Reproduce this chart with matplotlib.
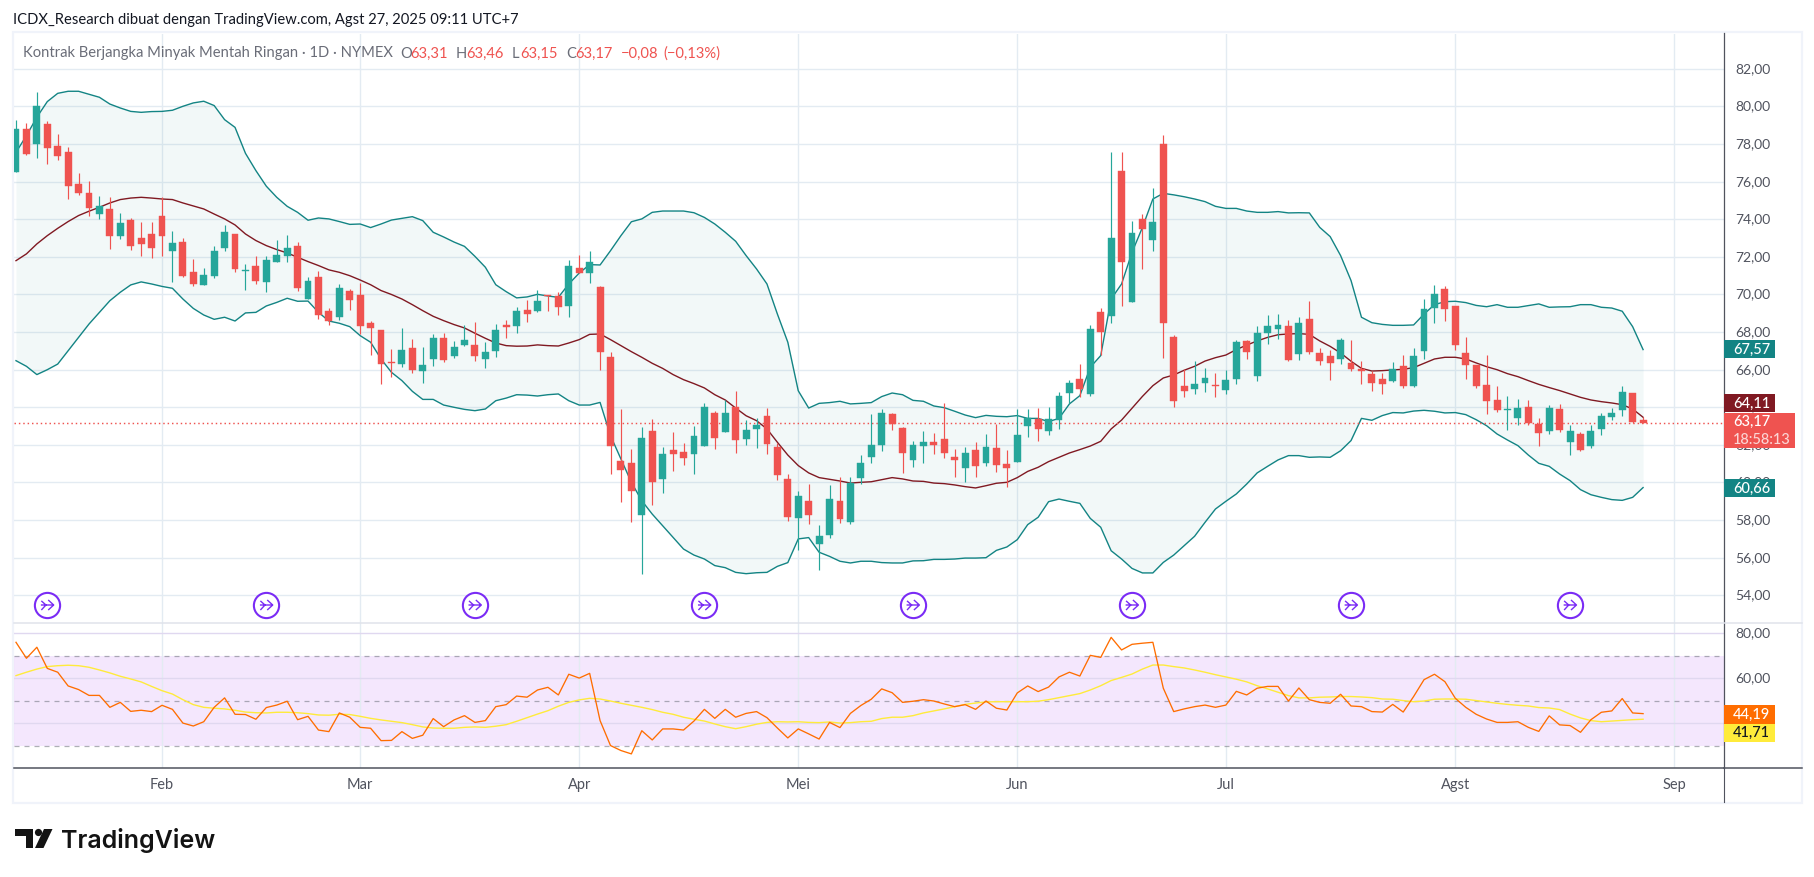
import matplotlib
matplotlib.use("Agg")
import matplotlib.pyplot as plt
from matplotlib.patches import Rectangle, Polygon, Circle
from matplotlib.lines import Line2D
from matplotlib.path import Path
from matplotlib.markers import MarkerStyle
from matplotlib.transforms import ScaledTranslation

# ---------- data ----------
opens = [76.54,78.81,78.01,79.05,77.90,77.58,75.88,75.40,74.28,74.55,73.11,73.96,73.01,73.22,74.18,72.32,72.79,71.20,70.51,70.99,
72.48,73.22,71.27,71.52,70.67,71.73,72.05,72.58,69.76,70.93,69.12,68.80,70.19,69.97,68.48,68.11,66.41,66.30,67.15,65.93,
66.57,67.69,66.73,67.31,67.31,66.57,66.99,68.38,68.32,69.18,69.12,69.97,69.92,69.39,71.41,71.14,70.40,66.68,61.14,61.04,
58.27,62.74,60.19,61.73,61.62,61.52,61.94,63.70,62.69,64.02,62.31,62.85,63.54,61.89,60.19,58.11,59.02,56.73,57.21,59.02,
57.90,60.24,61.36,62.00,63.64,62.90,61.20,61.94,62.15,62.31,61.36,60.77,61.73,61.04,61.83,60.98,61.09,63.00,63.38,62.74,
63.32,64.76,65.51,64.71,69.07,68.86,76.57,69.60,74.02,72.90,78.03,67.74,65.13,64.97,65.29,65.18,64.92,65.51,67.53,65.67,
67.95,68.17,68.33,66.84,68.70,66.89,66.73,66.57,66.36,66.04,65.77,65.51,65.40,66.20,65.13,67.00,69.28,70.29,69.39,66.89,
66.25,65.19,64.39,63.86,63.43,64.02,63.11,62.74,63.91,62.16,62.58,61.94,62.85,63.49,63.86,64.76,63.31]
highs = [79.28,79.12,80.76,79.21,78.54,77.85,76.46,76.04,75.26,75.17,74.34,74.07,73.86,73.86,75.17,73.38,73.01,71.89,71.41,72.58,
73.70,73.22,71.62,72.05,72.05,72.90,73.17,72.79,70.93,71.25,69.28,70.56,70.29,70.61,68.59,68.11,67.10,68.22,67.63,67.21,
67.90,67.95,67.53,68.38,68.54,67.47,68.43,68.64,69.33,69.71,70.24,69.97,70.13,71.84,72.10,72.31,70.45,66.94,63.91,61.78,
62.95,63.38,61.89,62.69,62.10,63.00,64.23,63.80,64.39,64.87,63.32,63.43,63.96,62.10,60.45,59.55,59.92,57.74,59.87,60.29,
60.29,61.46,63.64,63.91,63.70,62.95,62.21,62.74,62.63,64.23,61.78,61.89,62.15,62.58,63.11,61.73,63.91,63.91,63.96,64.02,
64.82,65.45,66.30,68.38,69.28,77.60,77.60,73.91,74.28,75.69,78.46,67.85,66.04,66.46,66.09,65.83,65.99,67.58,67.58,68.33,
68.91,68.96,68.64,68.80,69.66,67.16,67.05,67.69,67.58,66.46,65.93,65.83,66.41,66.78,67.16,69.76,70.51,70.45,69.39,67.74,
66.25,66.78,65.13,64.60,64.44,64.39,63.43,64.12,64.18,63.06,62.69,63.06,63.70,63.96,65.13,64.76,63.46]
lows = [76.54,77.42,77.28,76.94,77.16,75.08,75.29,74.19,74.02,72.42,72.95,72.37,72.05,71.94,72.05,70.67,70.95,70.45,70.51,70.88,
72.32,71.20,70.24,70.56,70.13,71.73,71.73,70.19,69.76,68.70,68.38,68.64,69.18,67.90,66.78,65.24,65.61,66.16,65.82,65.29,
66.20,66.41,66.62,67.26,66.46,66.09,66.68,67.69,67.95,68.54,69.07,69.12,68.91,68.80,71.14,70.61,65.98,60.45,58.96,57.90,
55.13,58.80,59.44,60.61,60.93,60.45,61.94,61.78,62.69,61.57,61.99,61.84,61.52,60.13,57.95,56.41,57.79,55.35,57.05,57.85,
57.79,59.92,61.04,61.68,62.79,60.51,60.82,61.04,61.52,61.30,60.29,60.03,60.29,60.88,60.56,59.76,61.09,62.42,62.21,62.53,
62.85,64.23,64.55,64.60,66.78,68.48,69.39,69.60,71.36,72.31,66.62,64.02,64.55,64.71,64.81,64.55,64.71,65.24,66.57,65.40,
67.37,67.63,66.46,66.52,66.84,66.25,65.45,66.30,65.93,65.24,64.87,64.71,65.35,65.03,65.08,66.57,68.49,68.59,67.05,65.51,
65.03,63.64,63.75,62.79,63.06,63.06,61.94,62.58,62.69,61.46,61.68,61.84,62.53,63.33,63.54,63.17,63.15]
closes = [78.81,77.47,80.00,77.81,77.39,75.79,75.40,74.60,74.69,73.11,73.80,72.58,72.69,72.48,73.11,72.74,70.99,70.56,71.04,72.32,
73.33,71.36,71.30,70.72,71.84,72.10,72.48,70.35,70.72,68.91,68.59,70.35,69.71,68.32,68.22,66.30,66.36,67.05,65.98,66.25,
67.69,66.52,67.21,67.58,66.73,66.94,68.11,68.27,69.12,68.96,69.65,69.92,69.34,71.52,71.14,71.73,66.94,61.94,60.66,59.55,
62.37,60.03,61.52,61.52,61.30,62.47,64.02,62.37,63.70,62.26,62.79,63.06,62.05,60.40,58.17,59.28,58.27,57.15,59.12,58.06,
59.97,61.04,62.00,63.70,63.11,61.57,62.00,62.15,62.00,61.57,61.20,61.57,60.88,61.89,60.93,60.77,62.53,63.43,62.85,63.38,
64.60,65.29,64.97,68.17,68.01,73.00,71.75,73.27,73.48,73.86,68.48,64.33,64.87,65.24,65.56,65.13,65.45,67.47,66.94,67.95,
68.33,68.38,66.52,68.49,66.94,66.46,66.36,67.58,66.04,65.93,65.29,65.24,66.04,65.13,66.73,69.23,70.03,69.23,67.31,66.25,
65.13,64.34,63.86,63.91,63.96,63.17,62.63,63.96,62.79,62.74,61.73,62.74,63.54,63.70,64.82,63.22,63.17]
bb_upper = [77.56,78.45,79.43,80.26,80.70,80.81,80.81,80.65,80.49,80.13,79.92,79.74,79.69,79.73,79.74,79.80,80.01,80.19,80.28,80.05,
79.30,78.89,77.51,76.59,75.76,75.17,74.69,74.37,73.95,74.07,74.02,73.88,73.73,73.75,73.56,73.75,73.96,74.05,74.14,73.93,
73.31,73.06,72.79,72.56,72.03,71.45,70.52,70.15,69.82,69.87,70.01,69.92,69.85,70.56,71.14,71.59,71.57,72.33,73.13,73.87,
74.02,74.37,74.44,74.44,74.44,74.35,74.10,73.75,73.31,72.83,72.07,71.36,70.56,68.96,67.46,64.88,63.96,64.21,64.25,64.32,
64.18,64.21,64.25,64.57,64.76,64.67,64.37,64.32,64.07,63.98,63.79,63.59,63.45,63.57,63.52,63.50,63.56,63.41,63.41,63.24,
63.41,64.18,64.62,66.13,66.75,69.76,70.56,72.24,73.57,75.08,75.38,75.30,75.20,75.08,74.94,74.69,74.58,74.58,74.44,74.37,
74.37,74.41,74.34,74.35,74.34,73.57,73.08,72.07,70.74,68.79,68.50,68.41,68.36,68.36,68.38,68.96,69.46,69.62,69.64,69.57,
69.42,69.35,69.46,69.32,69.32,69.41,69.50,69.32,69.34,69.35,69.46,69.46,69.32,69.28,69.11,68.29,67.07]
bb_lower = [66.48,66.18,65.74,66.00,66.30,67.01,67.72,68.43,69.05,69.67,70.12,70.51,70.67,70.56,70.43,70.33,69.76,69.26,68.91,68.68,
68.79,68.59,69.02,69.05,69.39,69.58,69.80,69.64,69.65,69.05,68.59,68.47,68.29,67.81,67.46,66.57,65.86,65.42,64.85,64.42,
64.42,64.12,64.00,63.89,63.82,63.91,64.35,64.49,64.67,64.65,64.60,64.67,64.71,64.35,64.12,64.12,64.26,62.49,61.25,60.01,
59.03,58.32,57.70,57.08,56.46,56.14,55.93,55.58,55.47,55.22,55.15,55.20,55.22,55.54,55.74,57.00,57.07,56.29,56.07,55.81,
55.72,55.81,55.81,55.74,55.72,55.72,55.83,55.84,55.91,55.91,55.93,55.98,55.98,56.00,56.39,56.57,56.96,57.76,58.15,58.98,
59.12,59.00,58.89,58.09,57.62,56.37,55.93,55.43,55.19,55.19,55.75,56.14,56.64,57.14,57.88,58.59,59.00,59.39,59.92,60.51,
60.86,61.20,61.43,61.43,61.34,61.36,61.34,61.69,62.23,63.41,63.31,63.56,63.72,63.70,63.80,63.84,63.79,63.70,63.72,63.61,
63.34,63.02,62.58,62.26,61.96,61.46,61.02,60.86,60.45,60.10,59.62,59.35,59.21,59.09,59.05,59.21,59.73]
bb_basis = [71.80,72.16,72.69,73.13,73.52,73.88,74.20,74.43,74.64,74.87,75.05,75.13,75.17,75.13,75.08,75.05,74.87,74.71,74.55,74.28,
74.02,73.70,73.22,72.87,72.60,72.39,72.21,71.98,71.75,71.54,71.31,71.18,71.00,70.77,70.52,70.21,70.00,69.76,69.46,69.14,
68.84,68.61,68.40,68.22,67.94,67.67,67.42,67.28,67.25,67.26,67.32,67.28,67.26,67.42,67.60,67.88,67.90,67.60,67.28,66.96,
66.66,66.34,66.07,65.74,65.47,65.26,65.03,64.67,64.39,63.96,63.55,63.29,62.85,62.14,61.46,60.90,60.51,60.26,60.17,60.08,
59.97,60.01,60.04,60.15,60.26,60.19,60.08,60.06,59.97,59.94,59.87,59.78,59.71,59.83,59.96,60.01,60.26,60.59,60.81,61.11,
61.34,61.57,61.75,61.94,62.19,62.85,63.32,63.95,64.58,65.15,65.56,65.72,65.97,66.18,66.46,66.64,66.78,67.07,67.31,67.53,
67.72,67.86,67.90,67.92,67.88,67.53,67.24,66.89,66.45,66.07,65.93,65.95,65.99,66.02,66.11,66.34,66.57,66.66,66.66,66.57,
66.36,66.16,66.00,65.79,65.63,65.42,65.22,65.05,64.89,64.71,64.53,64.39,64.30,64.23,64.14,63.91,63.47]
rsi = [76.0,68.9,73.8,64.4,62.7,56.6,55.0,52.4,52.4,47.1,49.3,45.3,45.8,45.2,48.0,46.2,40.1,38.8,40.7,47.1,
51.3,44.0,43.9,41.8,47.0,48.1,49.8,41.6,43.1,37.0,36.3,44.6,42.7,38.2,37.8,32.3,32.4,36.3,33.3,34.7,
42.1,38.5,41.5,43.4,40.4,41.2,47.4,48.3,52.1,51.6,54.8,56.0,52.6,61.8,60.1,62.2,41.2,30.1,27.9,26.4,
36.7,32.6,37.5,37.5,37.0,41.0,46.2,42.2,46.2,42.7,44.4,45.2,42.5,37.9,33.5,37.5,35.3,33.0,40.4,38.1,
44.4,47.9,50.7,55.3,53.6,49.3,49.8,50.5,49.9,48.6,47.4,48.3,46.2,49.9,46.7,45.9,53.5,56.6,54.1,56.1,
60.6,62.7,61.0,70.2,69.3,78.2,72.6,75.1,75.6,76.0,55.6,45.2,46.4,47.4,48.1,47.1,48.1,54.2,52.6,55.6,
56.4,56.4,49.9,55.7,50.5,49.3,48.9,52.9,47.7,47.4,45.2,45.0,48.4,45.0,51.9,59.4,61.8,58.5,51.1,47.1,
44.0,41.9,40.4,40.4,40.7,38.2,36.4,43.3,39.3,39.0,36.0,41.6,44.9,45.5,51.0,44.6,44.3]
rsi_ma = [61.2,62.7,64.1,65.2,65.6,65.8,65.6,64.9,63.7,62.4,60.9,59.7,58.4,56.4,54.5,53.0,50.5,48.3,47.1,46.7,
46.4,45.8,45.0,44.7,44.6,44.9,44.9,44.7,44.3,43.7,43.6,44.0,43.9,43.1,42.2,41.5,40.9,40.3,39.4,38.4,
37.9,37.8,37.8,38.2,38.4,38.2,38.7,39.4,40.9,42.5,44.1,45.6,47.6,49.3,50.4,51.1,50.8,49.9,48.9,48.0,
47.1,46.1,44.9,44.0,42.7,41.8,41.0,39.7,38.5,37.6,38.5,39.6,40.4,40.7,40.6,40.7,40.4,40.3,40.6,40.1,
40.3,40.7,40.9,42.1,42.7,42.7,43.4,44.6,45.5,46.4,47.4,48.4,49.0,49.5,49.6,49.6,49.6,49.6,49.8,50.5,
51.4,52.3,53.2,54.8,56.7,59.0,60.4,61.9,64.1,65.9,65.9,65.2,64.6,63.7,62.7,61.6,60.6,59.6,58.4,56.7,
55.3,53.8,52.3,51.3,51.3,51.6,51.7,51.9,51.9,51.7,51.4,50.8,50.7,50.1,49.6,49.9,50.7,50.8,50.8,50.7,
50.1,49.5,48.9,48.4,48.0,47.7,47.0,46.8,46.1,44.1,42.4,41.2,40.7,41.0,41.3,41.6,41.8]
month_idx = [14,33,54,75,96,116,138,159]
month_labels = ["Feb","Mar","Apr","Mei","Jun","Jul","Agst","Sep"]
price_ticks = [54,56,58,60,62,64,66,68,70,72,74,76,78,80,82]
price_tick_labels = ["54,00","56,00","58,00","60,00","62,00","64,00","66,00","68,00","70,00","72,00","74,00","76,00","78,00","80,00","82,00"]
event_idx = [3,24,44,66,86,107,128,149]
last_close = 63.17

# ---------- style ----------
W, H = 1814, 878
FONT = ["Lato", "DejaVu Sans"]
plt.rcParams["font.family"] = FONT
GREEN, RED = "#26a69a", "#ef5350"
TEAL, MAROON = "#138484", "#801922"
GRID = "#e3ebf2"
TXT = "#50535e"
fig = plt.figure(figsize=(W/100, H/100), dpi=100, facecolor="white")

def fx(x): return x / W
def fy(y): return 1 - y / H
def px_axes(l, t, r, b): return [fx(l), fy(b), (r-l)/W, (b-t)/H]

L, R = 14, 1724
ax = fig.add_axes(px_axes(L, 34.5, R, 623.5))
ax2 = fig.add_axes(px_axes(L, 623.5, R, 769), sharex=ax)
xs = list(range(len(closes)))
xlim = ((L-16)/10.43, (R-16)/10.43)

for a in (ax, ax2):
    a.set_facecolor("none")
    for s in ("top", "left"):
        a.spines[s].set_visible(False)
    a.spines["right"].set_color(TXT)
    a.spines["right"].set_linewidth(0.9)
    a.yaxis.tick_right()
    a.tick_params(axis="both", length=0, labelcolor=TXT, labelsize=10)
    a.tick_params(axis="y", pad=8)
    a.set_axisbelow(True)
    a.grid(True, color=GRID, lw=1.0)

# main pane
ax.spines["bottom"].set_visible(False)
ax.set_xlim(*xlim)
ax.set_ylim(64-(623.5-408.3)/18.8, 64+(408.3-34.5)/18.8)
ax.set_yticks(price_ticks, price_tick_labels)
ax.set_xticks(month_idx, month_labels)
ax.tick_params(axis="x", labelbottom=False)

ax.fill_between(xs, bb_lower, bb_upper, color=TEAL, alpha=0.05, lw=0, zorder=1)
ax.plot(xs, bb_upper, color=TEAL, lw=1.0, zorder=2)
ax.plot(xs, bb_lower, color=TEAL, lw=1.0, zorder=2)
ax.plot(xs, bb_basis, color=MAROON, lw=1.0, zorder=2)

colors = [GREEN if c >= o else RED for o, c in zip(opens, closes)]
ax.vlines(xs, lows, highs, colors=colors, lw=0.85, zorder=3)
ax.bar(xs, [abs(c-o) for o, c in zip(opens, closes)], bottom=[min(o, c) for o, c in zip(opens, closes)],
       width=0.66, color=colors, edgecolor=colors, lw=0.3, zorder=3)
ax.axhline(last_close, color=RED, lw=1.05, ls=(0, (1, 2)), zorder=2.5)

# event icons
ic = Path([(0.1,0.55),(0.7,0.0),(0.1,-0.55),(-0.7,0.0),(0.65,0.0),(-0.65,0.45),(-0.15,0.0),(-0.65,-0.55)],
          [Path.MOVETO,Path.LINETO,Path.LINETO,Path.MOVETO,Path.LINETO,Path.MOVETO,Path.LINETO,Path.LINETO])
ev_y = [(623.5-606)/589] * len(event_idx)
tr = ax.get_xaxis_transform()
ax.scatter(event_idx, ev_y, s=330, facecolor="white", edgecolor="#7a2bf5", lw=1.5, transform=tr, zorder=5)
ax.scatter(event_idx, ev_y, s=85, marker=MarkerStyle(ic), facecolor="none", edgecolor="#7a2bf5", lw=1.0, transform=tr, zorder=6)

# RSI pane
ax2.set_ylim(80-(769-634.3)/2.25, 80+(634.3-623.5)/2.25)
ax2.set_yticks([40, 60, 80], ["", "60,00", "80,00"])
ax2.axhspan(30, 70, color="#9c27f0", alpha=0.11, lw=0, zorder=0.5)
ax2.grid(True, axis="y", color="#e0d8f0", lw=1.0)
for v in (30, 50, 70):
    ax2.axhline(v, color="#787b86", lw=0.9, ls=(0, (4, 4)), alpha=0.6, zorder=1)
ax2.plot(xs, rsi_ma, color="#ffeb3b", lw=1.0, zorder=2)
ax2.plot(xs, rsi, color="#ff6d00", lw=0.95, zorder=3)
ax2.spines["bottom"].set_color(TXT)
ax2.spines["bottom"].set_linewidth(1.1)
ax2.set_xticks(month_idx, month_labels)
ax2.tick_params(axis="x", pad=6.5, labelsize=10.5)

# y tick labels: left aligned, lifted to the height of the reference labels
lift = ScaledTranslation(0, 2/100, fig.dpi_scale_trans)
for a in (ax, ax2):
    for t in a.get_yticklabels():
        t.set_ha("left")
        t.set_transform(t.get_transform() + lift)

# frame and separators
fig.add_artist(Rectangle((fx(13), fy(804)), (1802-13)/W, (804-33)/H, transform=fig.transFigure,
                         fill=False, edgecolor="#f0f3fa", lw=1.6, zorder=0))
fig.add_artist(Line2D([fx(L), fx(1802)], [fy(623.5)]*2, color="#e0e3eb", lw=1.1, zorder=2))
fig.add_artist(Line2D([fx(R), fx(1802)], [fy(769)]*2, color=TXT, lw=1.1, zorder=2))
fig.add_artist(Line2D([fx(R)]*2, [fy(769), fy(803)], color=TXT, lw=0.8, zorder=2))

# price labels on the axis
def label(top, bot, right, bg, fg, lines, fgs=None):
    fig.add_artist(Rectangle((fx(R), fy(bot)), (right-R)/W, (bot-top)/H, transform=fig.transFigure,
                             facecolor=bg, edgecolor="none", zorder=5))
    n = len(lines)
    for k, s in enumerate(lines):
        yc = top + (bot-top)*(k+0.5)/n - 0.5
        c = fgs[k] if fgs else fg
        fig.text(fx(1733), fy(yc), s, color=c, fontsize=10.5, fontweight="medium", va="center", ha="left", zorder=6)

label(341, 359, 1775, TEAL, "white", ["67,57"])
label(395, 413, 1775, MAROON, "white", ["64,11"])
label(480, 498, 1775, TEAL, "white", ["60,66"])
label(414, 449, 1795, RED, "white", ["63,17", "18:58:13"], ["white", "#fbd5d4"])
label(706, 724.5, 1775, "#ff6d00", "white", ["44,19"])
label(724.5, 743, 1775, "#ffeb3b", "#131722", ["41,71"])

# header texts
fig.text(fx(13), fy(20), "ICDX_Research dibuat dengan TradingView.com, Agst 27, 2025 09:11 UTC+7",
         color="#131722", fontsize=10.6, va="center", ha="left")
LEG = "#6a6d78"
legend_parts = [(23, "Kontrak Berjangka Minyak Mentah Ringan · 1D · NYMEX", LEG), (400, "O", LEG), (410, "63,31", RED),
                (456, "H", LEG), (466, "63,46", RED), (512, "L", LEG), (520, "63,15", RED), (566, "C", LEG), (575, "63,17", RED),
                (621, "−0,08", RED), (663, "(−0,13%)", RED)]
for x, s, c in legend_parts:
    fig.text(fx(x), fy(53.5), s, color=c, fontsize=10.6, va="center", ha="left", zorder=6)

# logo
LOGO = "#131313"
def pix(pts): return [(fx(a), fy(b)) for a, b in pts]
fig.add_artist(Polygon(pix([(15,830),(33,830),(33,849),(25.5,849),(25.5,837),(15,837)]), transform=fig.transFigure, color=LOGO, lw=0))
fig.add_artist(Polygon(pix([(44,830),(52.5,830),(43.5,849),(35,849)]), transform=fig.transFigure, color=LOGO, lw=0))
ax_logo = fig.add_axes([0, 0, 1, 1], facecolor="none", zorder=-1)
ax_logo.set_xlim(0, W); ax_logo.set_ylim(H, 0); ax_logo.axis("off")
ax_logo.add_patch(Circle((38.5, 833.5), 3.6, color=LOGO, lw=0))
fig.text(fx(61.5), fy(841), "TradingView", color=LOGO, fontsize=18, fontweight="semibold",
         family=["Inter", "DejaVu Sans"], va="center", ha="left")

fig.savefig("out.png", dpi=100)
